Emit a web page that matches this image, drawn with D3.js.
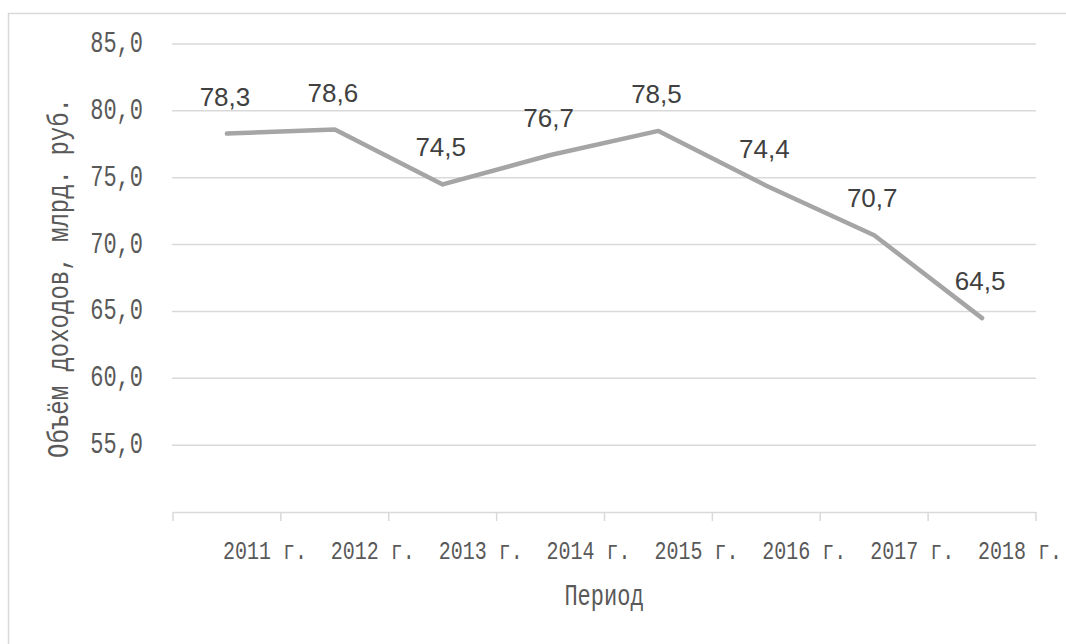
<!DOCTYPE html>
<html><head><meta charset="utf-8">
<script src="https://cdn.jsdelivr.net/npm/d3@7"></script>
<style>html,body{margin:0;padding:0;background:#fff;}</style>
</head><body>
<svg id="chart" width="1066" height="644"></svg>
<script>
const categories = ["2011 г.","2012 г.","2013 г.","2014 г.","2015 г.","2016 г.","2017 г.","2018 г."];
const values = [78.3, 78.6, 74.5, 76.7, 78.5, 74.4, 70.7, 64.5];
const yTicks = [55, 60, 65, 70, 75, 80, 85];
const yTitle = "Объём доходов, млрд. руб.";
const xTitle = "Период";

const svg = d3.select("#chart");
const fmt = v => d3.format(".1f")(v).replace(".", ",");

// outer frame
svg.append("rect").attr("x",8.5).attr("y",13.5).attr("width",1070).attr("height",650)
  .attr("fill","#fff").attr("stroke","#d9d9d9").attr("stroke-width",1.5);

const x = d3.scaleBand().domain(categories).range([173,1036]).paddingInner(0).paddingOuter(0);
const y = d3.scaleLinear().domain([50,85]).range([512,44]);

// gridlines
svg.append("g").selectAll("line").data(yTicks).join("line")
  .attr("x1",172).attr("x2",1036)
  .attr("y1",d=>y(d)).attr("y2",d=>y(d))
  .attr("stroke","#d9d9d9").attr("stroke-width",1.5);

// y tick labels
svg.append("g").selectAll("text").data(yTicks).join("text")
  .attr("x",143).attr("y",d=>y(d)+8)
  .attr("text-anchor","end")
  .attr("font-family","Liberation Mono").attr("font-size",22)
  .attr("fill","#595959")
  .attr("transform",d=>`translate(143,${y(d)+8}) scale(1,1.3) translate(-143,${-(y(d)+8)})`)
  .text(d=>fmt(d));

// x axis
const xAxis = d3.axisBottom(x).tickSize(0).tickFormat("");
const gx = svg.append("g").attr("transform","translate(0,512)").call(xAxis);
gx.select(".domain").attr("stroke","#d9d9d9").attr("stroke-width",1.5);
const bounds = categories.map(c=>x(c)).concat([x(categories[categories.length-1])+x.bandwidth()]);
svg.append("g").selectAll("line").data(bounds).join("line")
  .attr("x1",d=>d).attr("x2",d=>d).attr("y1",512).attr("y2",521)
  .attr("stroke","#d9d9d9").attr("stroke-width",1.5);

// x tick labels
svg.append("g").selectAll("text").data(categories).join("text")
  .attr("x",d=>x(d)+x.bandwidth()/2-4).attr("y",559)
  .attr("font-family","Liberation Mono").attr("font-size",20)
  .attr("fill","#595959")
  .attr("transform",d=>{const xx=x(d)+x.bandwidth()/2-4;return `translate(${xx},559) scale(1,1.3) translate(${-xx},-559)`;})
  .text(d=>d);

// axis titles
svg.append("text").attr("x",604).attr("y",605).attr("text-anchor","middle")
  .attr("font-family","Liberation Mono").attr("font-size",22).attr("fill","#595959")
  .attr("transform","translate(604,605) scale(1,1.3) translate(-604,-605)")
  .text(xTitle);
svg.append("text").attr("text-anchor","middle")
  .attr("transform","translate(68,278) rotate(-90) scale(1,1.25)")
  .attr("font-family","Liberation Mono").attr("font-size",24).attr("fill","#595959")
  .text(yTitle);

// line
const line = d3.line().x((d,i)=>x(categories[i])+x.bandwidth()/2).y(d=>y(d));
svg.append("path").datum(values).attr("d",line)
  .attr("fill","none").attr("stroke","#a5a5a5").attr("stroke-width",4.5)
  .attr("stroke-linejoin","round").attr("stroke-linecap","round");

// data labels
svg.append("g").selectAll("text").data(values).join("text")
  .attr("x",(d,i)=>x(categories[i])+x.bandwidth()/2-2)
  .attr("y",d=>y(d)-28)
  .attr("text-anchor","middle")
  .attr("font-family","Liberation Sans").attr("font-size",26)
  .attr("fill","#404040")
  .text(d=>fmt(d));
</script>
</body></html>
